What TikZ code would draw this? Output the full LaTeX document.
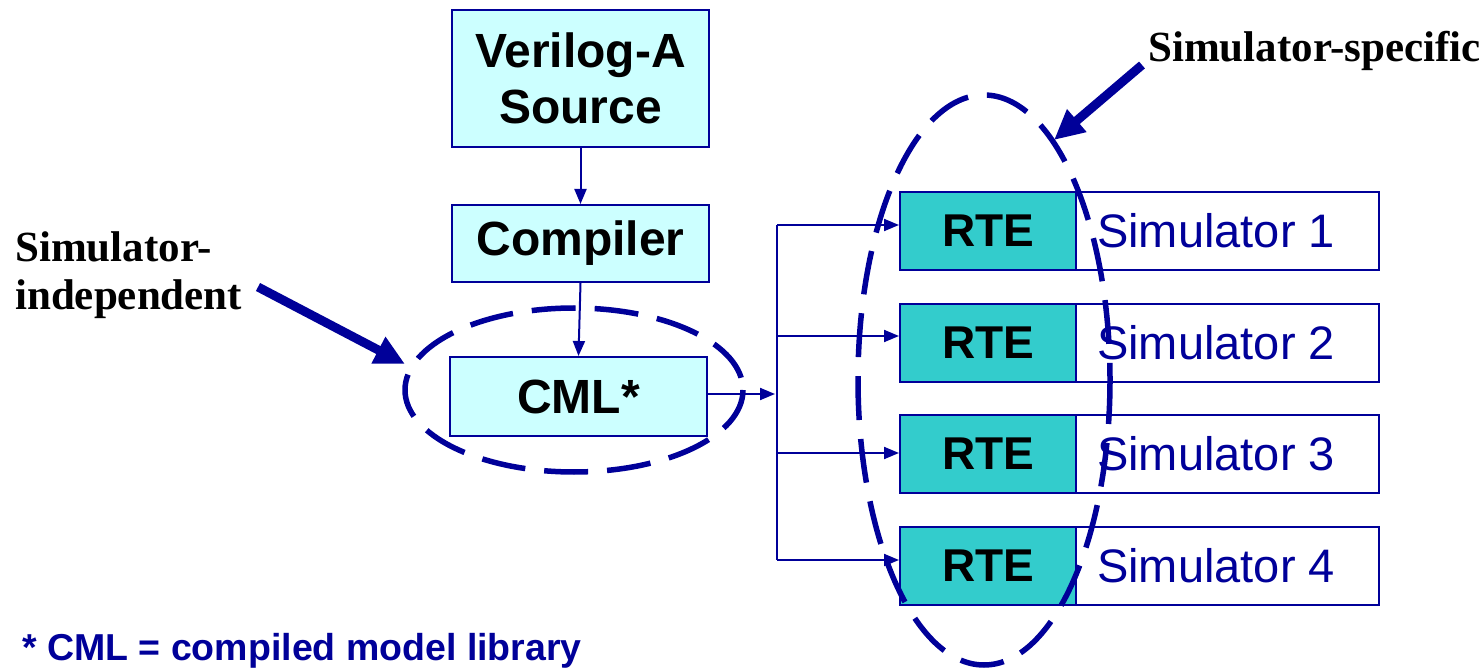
\documentclass[tikz,border=0pt]{standalone}
\usepackage{fontspec}
\setmainfont{Liberation Serif}
\setsansfont{Liberation Sans}
\usetikzlibrary{arrows.meta}
\definecolor{navy}{RGB}{0,0,153}
\definecolor{boxfill}{RGB}{204,255,255}
\definecolor{rtefill}{RGB}{51,204,204}
\tikzset{
  flowbox/.style={draw=navy, line width=2pt, fill=boxfill, inner sep=0pt,
    font=\sffamily\bfseries\fontsize{48}{56}\selectfont, align=center},
  rtebox/.style={draw=navy, line width=2pt, fill=rtefill, inner sep=0pt,
    minimum width=176pt, minimum height=78pt,
    font=\sffamily\bfseries\fontsize{46}{52}\selectfont},
  simbox/.style={draw=navy, line width=2pt, fill=white, inner sep=0pt,
    minimum width=303pt, minimum height=78pt},
  simtext/.style={text=navy, inner sep=0pt, anchor=west,
    font=\sffamily\fontsize{47}{52}\selectfont},
  link/.style={draw=navy, line width=2pt, -{Triangle[length=15pt,width=12pt]}},
  plainlink/.style={draw=navy, line width=2pt},
  group/.style={draw=navy, line width=5.5pt, dash pattern=on 44pt off 19pt},
  pointer/.style={draw=navy, line width=9pt, -{Triangle[length=30pt,width=28pt]}},
  note/.style={font=\rmfamily\bfseries\fontsize{43}{48}\selectfont, inner sep=0pt, align=left}
}
\begin{document}
\begin{tikzpicture}[x=1pt,y=-1pt]
\useasboundingbox (0,0) rectangle (1484,668);

% compilation flow
\node[flowbox, minimum width=257pt, minimum height=137pt] (src) at (580.5,78.5) {Verilog-A\\Source};
\node[flowbox, minimum width=257pt, minimum height=77pt] (comp) at (580.5,243.5) {Compiler};
\node[flowbox, minimum width=257pt, minimum height=79pt] (cml) at (578.5,396.5) {CML*};

\draw[link] (src.south) -- (comp.north);
\draw[link] (comp.south) -- (cml.north);

% run-time engines and simulators
\foreach \i/\y in {1/231,2/343,3/454,4/566}{
  \node[rtebox] (rte\i) at (988,\y) {RTE};
  \node[simbox] (sim\i) at (1227.5,\y) {};
  \node[simtext] (simlbl\i) at (1097,\y) {Simulator \i};
}

% distribution bus
\coordinate (b1) at (777,225);
\coordinate (b2) at (777,336);
\coordinate (b3) at (777,453);
\coordinate (b4) at (777,560);
\coordinate (bin) at (775,394);
\draw[plainlink] (b1) -- (b4);
\draw[link] (cml.east |- bin) -- (bin);
\foreach \i in {1,2,3,4}{
  \draw[link] (b\i) -- (b\i -| rte\i.west);
}

% dashed groupings
\draw[group] (574,390) ellipse [x radius=169, y radius=82];
\draw[group] (984,380) ellipse [x radius=126, y radius=285];

% annotations
\node[note, anchor=base west] (indep) at (15,310) {Simulator-\\independent};
\node[note, anchor=base west] (spec) at (1148,62) {Simulator-specific};
\coordinate (indeptip) at (405,364);
\coordinate (spectip) at (1054,140);
\draw[pointer] (258,287) -- (indeptip);
\draw[pointer] (1142,65) -- (spectip);

\node[anchor=base west, inner sep=0pt, text=navy,
  font=\sffamily\bfseries\fontsize{37.5}{42}\selectfont] (foot) at (22,660)
  {* CML = compiled model library};
\end{tikzpicture}
\end{document}
